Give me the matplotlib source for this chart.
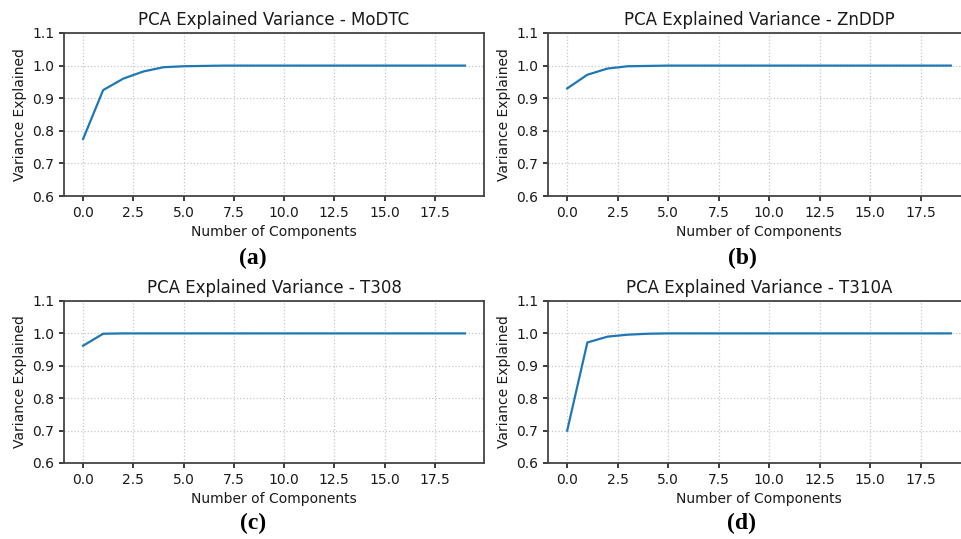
import numpy as np
import matplotlib.pyplot as plt

# cumulative explained variance for the first 20 components of each additive
n_components = np.arange(20)
modtc = [0.775, 0.925, 0.960, 0.982, 0.995, 0.998, 0.999, 1.0, 1.0, 1.0,
         1.0, 1.0, 1.0, 1.0, 1.0, 1.0, 1.0, 1.0, 1.0, 1.0]
znddp = [0.930, 0.972, 0.991, 0.998, 0.999, 1.0, 1.0, 1.0, 1.0, 1.0,
         1.0, 1.0, 1.0, 1.0, 1.0, 1.0, 1.0, 1.0, 1.0, 1.0]
t308 = [0.962, 0.999, 1.0, 1.0, 1.0, 1.0, 1.0, 1.0, 1.0, 1.0,
        1.0, 1.0, 1.0, 1.0, 1.0, 1.0, 1.0, 1.0, 1.0, 1.0]
t310a = [0.700, 0.972, 0.990, 0.996, 0.999, 1.0, 1.0, 1.0, 1.0, 1.0,
         1.0, 1.0, 1.0, 1.0, 1.0, 1.0, 1.0, 1.0, 1.0, 1.0]

names = ["MoDTC", "ZnDDP", "T308", "T310A"]
series = [modtc, znddp, t308, t310a]
tags = ["(a)", "(b)", "(c)", "(d)"]

W, H = 962, 539
fig = plt.figure(figsize=(W / 100, H / 100), dpi=100)

# axes boxes in pixels: left, top, right, bottom
boxes = [(64, 33, 484, 196), (548, 33, 970, 196),
         (64, 301, 484, 463), (548, 301, 970, 463)]
tag_pos = [(253, 258), (742, 258), (253, 523), (742, 523)]

for name, vals, tag, (l, t, r, b), (tx, ty) in zip(names, series, tags, boxes, tag_pos):
    ax = fig.add_axes([l / W, 1 - b / H, (r - l) / W, (b - t) / H])
    ax.plot(n_components, vals, color="#1f77b4", lw=1.6)
    ax.set_ylim(0.6, 1.1)
    ax.set_yticks([0.6, 0.7, 0.8, 0.9, 1.0, 1.1])
    ax.set_xticks(np.arange(0, 18, 2.5))
    ax.set_title(f"PCA Explained Variance - {name}", fontsize=12, color="#1a1a1a")
    ax.set_xlabel("Number of Components", fontsize=10, color="#1a1a1a")
    ax.set_ylabel("Variance Explained", fontsize=10, color="#1a1a1a")
    ax.grid(True, linestyle=":", color="#c8c8c8", lw=0.9)
    for s in ax.spines.values():
        s.set_color("#444444")
        s.set_linewidth(1.3)
    ax.tick_params(colors="#1a1a1a", labelsize=10, width=1.2)
    fig.text(tx / W, 1 - ty / H, tag, ha="center", va="center",
             fontsize=17, fontweight="bold", family="Liberation Serif")

fig.savefig("out.png", dpi=100)
